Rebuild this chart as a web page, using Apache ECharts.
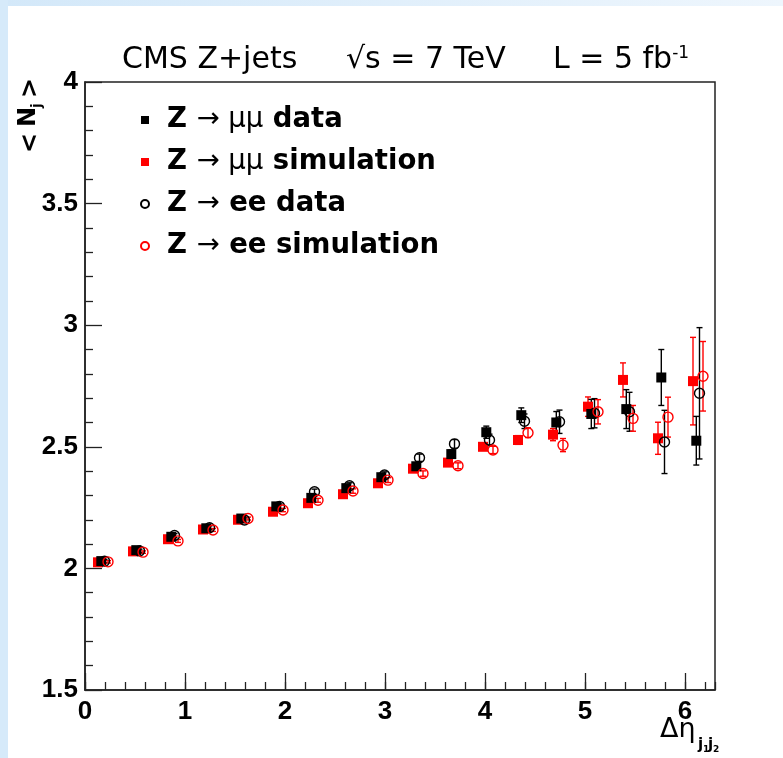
<!DOCTYPE html>
<html><head><meta charset="utf-8">
<script src="https://cdn.jsdelivr.net/npm/echarts@6/dist/echarts.min.js"></script>
<style>html,body{margin:0;padding:0;background:#fff}#c{width:783px;height:758px}</style>
</head><body><div id="c"></div>
<script>
// ---- data ----
const seriesNames = ['Z → μμ data', 'Z → μμ simulation', 'Z → ee data', 'Z → ee simulation'];
const xTickLabels = [0, 1, 2, 3, 4, 5, 6];
const yTickLabels = [1.5, 2, 2.5, 3, 3.5, 4];

const mmDataX = [0.163,0.513,0.863,1.213,1.563,1.913,2.263,2.613,2.963,3.313,3.663,4.013,4.363,4.713,5.063,5.413,5.763,6.113];
const mmDataY = [2.03,2.075,2.13,2.165,2.205,2.255,2.29,2.33,2.375,2.42,2.47,2.56,2.63,2.60,2.635,2.655,2.785,2.525];
const mmDataE = [0.006,0.006,0.007,0.007,0.008,0.009,0.01,0.011,0.012,0.014,0.017,0.025,0.03,0.045,0.06,0.08,0.115,0.10];

const mmSimX = [0.13,0.48,0.83,1.18,1.53,1.88,2.23,2.58,2.93,3.28,3.63,3.98,4.33,4.68,5.03,5.38,5.73,6.08];
const mmSimY = [2.025,2.07,2.12,2.16,2.20,2.233,2.268,2.305,2.35,2.41,2.435,2.50,2.528,2.55,2.665,2.775,2.535,2.77];
const mmSimE = [0.005,0.005,0.005,0.006,0.006,0.007,0.008,0.008,0.009,0.01,0.01,0.012,0.018,0.025,0.04,0.07,0.066,0.18];

const eeDataX = [0.195,0.545,0.895,1.245,1.595,1.945,2.295,2.645,2.995,3.345,3.695,4.045,4.395,4.745,5.095,5.445,5.795,6.145];
const eeDataY = [2.03,2.072,2.135,2.167,2.199,2.255,2.315,2.34,2.384,2.455,2.512,2.528,2.605,2.603,2.638,2.644,2.52,2.72];
const eeDataE = [0.007,0.007,0.008,0.008,0.009,0.01,0.011,0.012,0.013,0.015,0.018,0.024,0.03,0.048,0.06,0.08,0.13,0.27];

const eeSimX = [0.23,0.58,0.93,1.28,1.63,1.98,2.33,2.68,3.03,3.38,3.73,4.08,4.43,4.78,5.13,5.48,5.83,6.18];
const eeSimY = [2.027,2.067,2.113,2.158,2.205,2.24,2.28,2.318,2.363,2.39,2.422,2.487,2.558,2.507,2.644,2.617,2.622,2.79];
const eeSimE = [0.005,0.005,0.006,0.006,0.006,0.007,0.008,0.009,0.01,0.011,0.012,0.015,0.02,0.027,0.05,0.053,0.082,0.143];

// ---- helpers ----
const FONT = 'DejaVu Sans';
function pts(xs, ys) { return xs.map((x, i) => [x, ys[i]]); }
function errPts(xs, ys, es) { return xs.map((x, i) => [x, ys[i], es[i]]); }
function errBar(color) {
  return function (params, api) {
    const x = api.value(0), y = api.value(1), e = api.value(2);
    const lo = api.coord([x, y - e]), hi = api.coord([x, y + e]);
    const w = 3, st = { stroke: color, lineWidth: 1.4 };
    return { type: 'group', children: [
      { type: 'line', shape: { x1: lo[0], y1: lo[1], x2: hi[0], y2: hi[1] }, style: st },
      { type: 'line', shape: { x1: lo[0] - w, y1: lo[1], x2: lo[0] + w, y2: lo[1] }, style: st },
      { type: 'line', shape: { x1: hi[0] - w, y1: hi[1], x2: hi[0] + w, y2: hi[1] }, style: st }
    ]};
  };
}
function errSeries(name, xs, ys, es, color) {
  return { name: name + ' err', type: 'custom', silent: true, z: 2,
    renderItem: errBar(color), encode: { x: 0, y: 1 }, data: errPts(xs, ys, es) };
}
function markSeries(name, xs, ys, symbol, style, z) {
  return { name: name, type: 'scatter', symbol: symbol, symbolSize: 10, z: z,
    itemStyle: Object.assign({ opacity: 1 }, style), emphasis: { disabled: true }, data: pts(xs, ys) };
}

const legendRich = {
  'Z → μμ data': '{b|Z} {n|→ μμ} {b|data}',
  'Z → μμ simulation': '{b|Z} {n|→ μμ} {b|simulation}',
  'Z → ee data': '{b|Z} {n|→} {b|ee data}',
  'Z → ee simulation': '{b|Z} {n|→} {b|ee simulation}'
};

const axisCol = '#222';
const chart = echarts.init(document.getElementById('c'), null, { renderer: 'canvas' });
chart.setOption({
  backgroundColor: '#fff',
  animation: false,
  title: [
    { text: 'CMS Z+jets', left: 122, top: 45, padding: 0,
      textStyle: { fontFamily: FONT, fontSize: 30, fontWeight: 'normal', color: '#000' } },
    { text: '√s = 7 TeV', left: 346, top: 45, padding: 0,
      textStyle: { fontFamily: FONT, fontSize: 30, fontWeight: 'normal', color: '#000' } },
    { text: 'L = 5 fb{sup|-1}', left: 553, top: 45, padding: 0,
      textStyle: { fontFamily: FONT, fontSize: 30, fontWeight: 'normal', color: '#000',
        rich: { sup: { fontFamily: FONT, fontSize: 17, verticalAlign: 'top', color: '#000' } } } }
  ],
  grid: { left: 85, right: 68, top: 82, bottom: 68, show: true, borderColor: axisCol, borderWidth: 1.5, backgroundColor: 'transparent' },
  legend: {
    data: seriesNames, orient: 'vertical', left: 140, top: 104, padding: 0,
    itemWidth: 8, itemHeight: 8, itemGap: 10, selectedMode: false,
    formatter: name => legendRich[name],
    textStyle: { fontFamily: FONT, fontSize: 27.5, fontWeight: 'bold', color: '#000', lineHeight: 32, padding: [0, 0, 0, 13],
      rich: {
        b: { fontFamily: FONT, fontSize: 27.5, fontWeight: 'bold', color: '#000', lineHeight: 32 },
        n: { fontFamily: FONT, fontSize: 27.5, fontWeight: 'normal', color: '#000', lineHeight: 32 }
      } }
  },
  xAxis: [
    { type: 'value', min: 0, max: 6.3, interval: 1, position: 'bottom',
      axisLine: { show: true, lineStyle: { color: axisCol, width: 1.5 } },
      axisTick: { show: true, inside: true, length: 17, lineStyle: { color: axisCol, width: 1.3 } },
      axisLabel: { showMaxLabel: false, fontFamily: 'Liberation Sans', fontSize: 26, fontWeight: 'bold', color: '#000', margin: 9,
        formatter: v => xTickLabels.includes(Math.round(v * 100) / 100) ? String(v) : '' },
      splitLine: { show: false } },
    { type: 'value', min: 0, max: 6.3, interval: 0.2, position: 'bottom',
      axisLine: { show: false },
      axisTick: { show: true, inside: true, length: 8, lineStyle: { color: axisCol, width: 1.3 } },
      axisLabel: { show: false }, splitLine: { show: false } }
  ],
  yAxis: {
    type: 'value', min: 1.5, max: 4, interval: 0.5,
    axisLine: { show: true, lineStyle: { color: axisCol, width: 1.5 } },
    axisTick: { show: true, inside: true, length: 17, lineStyle: { color: axisCol, width: 1.3 } },
    minorTick: { show: true, splitNumber: 5, length: 8, lineStyle: { color: axisCol, width: 1.3 } },
    axisLabel: { fontFamily: 'Liberation Sans', fontSize: 26, fontWeight: 'bold', color: '#000', margin: 7,
      formatter: v => yTickLabels.includes(Math.round(v * 100) / 100) ? String(v) : '' },
    splitLine: { show: false }, minorSplitLine: { show: false }
  },
  graphic: [
    { type: 'rect', shape: { x: 0, y: 0, width: 783, height: 6 }, z: 100, silent: true,
      style: { fill: new echarts.graphic.LinearGradient(0, 0, 1, 0, [{ offset: 0, color: '#d3e8f9' }, { offset: 1, color: '#eef6fd' }]) } },
    { type: 'rect', shape: { x: 0, y: 0, width: 8, height: 758 }, z: 100, silent: true,
      style: { fill: '#d6eafa' } },
    { type: 'group', x: 29, y: 153, rotation: Math.PI / 2, z: 100, children: [
      { type: 'text', x: 0, y: 2, style: { text: '<', font: 'bold 24px "DejaVu Sans"', fill: '#000', verticalAlign: 'middle', align: 'left' } },
      { type: 'text', x: 26, y: 0, style: { text: 'N', font: 'bold 24px "DejaVu Sans"', fill: '#000', verticalAlign: 'middle', align: 'left' } },
      { type: 'text', x: 45, y: 8, style: { text: 'j', font: 'bold 14px "DejaVu Sans"', fill: '#000', verticalAlign: 'middle', align: 'left' } },
      { type: 'text', x: 55, y: 2, style: { text: '>', font: 'bold 24px "DejaVu Sans"', fill: '#000', verticalAlign: 'middle', align: 'left' } }
    ]},
    { type: 'group', x: 660, y: 730, z: 100, children: [
      { type: 'text', x: 0, y: 0, style: { text: 'Δη', font: '27px "DejaVu Sans"', fill: '#000', verticalAlign: 'middle', align: 'left' } },
      { type: 'text', x: 38, y: 15, style: { text: 'j', font: 'bold 15px "DejaVu Sans"', fill: '#000', verticalAlign: 'middle', align: 'left' } },
      { type: 'text', x: 43, y: 20, style: { text: '1', font: 'bold 9px "DejaVu Sans"', fill: '#000', verticalAlign: 'middle', align: 'left' } },
      { type: 'text', x: 48, y: 15, style: { text: 'j', font: 'bold 15px "DejaVu Sans"', fill: '#000', verticalAlign: 'middle', align: 'left' } },
      { type: 'text', x: 53, y: 20, style: { text: '2', font: 'bold 9px "DejaVu Sans"', fill: '#000', verticalAlign: 'middle', align: 'left' } }
    ]}
  ],
  series: [
    errSeries(seriesNames[1], mmSimX, mmSimY, mmSimE, '#ff0000'),
    errSeries(seriesNames[0], mmDataX, mmDataY, mmDataE, '#000000'),
    errSeries(seriesNames[2], eeDataX, eeDataY, eeDataE, '#000000'),
    errSeries(seriesNames[3], eeSimX, eeSimY, eeSimE, '#ff0000'),
    markSeries(seriesNames[0], mmDataX, mmDataY, 'rect', { color: '#000' }, 4),
    markSeries(seriesNames[1], mmSimX, mmSimY, 'rect', { color: '#ff0000' }, 3),
    markSeries(seriesNames[2], eeDataX, eeDataY, 'circle', { color: 'rgba(0,0,0,0)', borderColor: '#000', borderWidth: 1.4 }, 5),
    markSeries(seriesNames[3], eeSimX, eeSimY, 'circle', { color: 'rgba(0,0,0,0)', borderColor: '#ff0000', borderWidth: 1.4 }, 6)
  ]
});
</script></body></html>
